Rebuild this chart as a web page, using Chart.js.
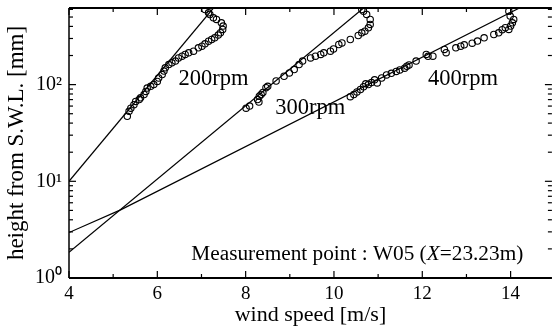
<!DOCTYPE html>
<html><head><meta charset="utf-8">
<script src="https://cdn.jsdelivr.net/npm/chart.js@4"></script>
<style>html,body{margin:0;padding:0;background:#fff;}#wrap{width:557px;height:329px;}</style>
</head><body><div id="wrap"><canvas id="c" width="557" height="329"></canvas></div>
<script>
// ---- data ----
const speed200  = [5.32,5.36,5.40,5.47,5.51,5.59,5.62,5.70,5.74,5.77,5.85,5.92,6.00,6.03,6.11,6.15,6.18,6.26,6.33,6.41,6.48,6.56,6.63,6.71,6.82,6.93,7.01,7.08,7.16,7.23,7.30,7.38,7.43,7.48,7.49,7.45,7.34,7.27,7.19,7.16,7.08];
const height200 = [47,53,57,62,67,70,73,79,85,92,96,100,108,117,127,138,149,161,168,175,189,197,205,213,222,240,250,264,281,293,305,325,344,372,403,436,472,491,531,553,598];

const speed300  = [8.01,8.09,8.27,8.30,8.31,8.35,8.39,8.46,8.50,8.69,8.87,8.99,9.10,9.21,9.29,9.47,9.58,9.70,9.77,9.92,9.99,10.11,10.18,10.37,10.55,10.63,10.70,10.78,10.82,10.82,10.74,10.67,10.63];
const height300 = [57,60,70,66,76,79,83,93,96,109,122,132,143,161,175,189,197,205,213,222,234,260,270,293,322,343,357,387,419,472,532,575,598];

const speed400  = [10.37,10.45,10.52,10.60,10.67,10.72,10.78,10.85,10.92,10.98,11.08,11.19,11.30,11.41,11.49,11.60,11.65,11.70,11.86,12.09,12.13,12.24,12.50,12.54,12.76,12.87,12.95,13.13,13.25,13.40,13.62,13.73,13.81,13.88,13.96,14.00,14.04,14.07,13.99,13.96];
const height400 = [75,79,84,89,95,102,100,105,112,104,117,126,131,137,142,148,155,160,175,205,196,197,231,214,240,250,258,268,282,305,330,343,370,388,372,403,436,472,511,575];

// fitted log-law lines
const fitSpeed200  = [4, 7.27];
const fitHeight200 = [10, 620];
const fitSpeed300  = [4, 10.67];
const fitHeight300 = [1.85, 620];
const fitSpeed400  = [4, 5.18, 14.2];
const fitHeight400 = [2.95, 5.1, 620];

// axes
const xTickValues = [4,5,6,7,8,9,10,11,12,13,14];
const yTickValues = [1,2,3,4,5,6,7,8,9,10,20,30,40,50,60,70,80,90,100,200,300,400,500,600];
const seriesLabels = ['200rpm','300rpm','400rpm'];

// ---- build ----
const SERIF = "'Liberation Serif','Times New Roman',serif";
const pts = (xs, ys) => xs.map((x, i) => ({x: x, y: ys[i]}));
const SUP = {'0':'\u2070','1':'\u00B9','2':'\u00B2','3':'\u00B3'};

function scatterSet(label, xs, ys) {
  return {label: label, data: pts(xs, ys), showLine: false, pointStyle: 'circle',
    pointRadius: 3.2, pointBorderWidth: 1.1, pointBorderColor: '#000',
    pointBackgroundColor: 'rgba(255,255,255,0)', borderColor: '#000'};
}
function lineSet(label, xs, ys) {
  return {label: label, data: pts(xs, ys), showLine: true, pointRadius: 0,
    borderColor: '#000', borderWidth: 1.2, fill: false, tension: 0};
}

const annotations = [
  {text: seriesLabels[0], x: 6.48, y: 98},
  {text: seriesLabels[1], x: 8.67, y: 50},
  {text: seriesLabels[2], x: 12.13, y: 98}
];
const noteParts = [{t: 'Measurement point : W05 (', it: false}, {t: 'X', it: true}, {t: '=23.23m)', it: false}];
const notePos = {x: 6.77, y: 1.55};

const framePlugin = {
  id: 'frame',
  afterDatasetsDraw(chart) {
    const {ctx, chartArea: a, scales: {x, y}} = chart;
    ctx.save();
    ctx.strokeStyle = '#000';
    ctx.lineWidth = 2;
    ctx.beginPath(); ctx.moveTo(a.left, a.bottom); ctx.lineTo(a.right, a.bottom); ctx.stroke();
    ctx.beginPath(); ctx.moveTo(a.left, a.top); ctx.lineTo(a.right, a.top); ctx.stroke();
    ctx.lineWidth = 1.5;
    ctx.beginPath(); ctx.moveTo(a.left, a.top); ctx.lineTo(a.left, a.bottom); ctx.stroke();
    ctx.lineWidth = 1.2;
    x.ticks.forEach(t => {
      const px = x.getPixelForValue(t.value);
      const len = (t.value % 2 === 0) ? 7 : 4;
      ctx.beginPath(); ctx.moveTo(px, a.bottom); ctx.lineTo(px, a.bottom - len); ctx.stroke();
      ctx.beginPath(); ctx.moveTo(px, a.top); ctx.lineTo(px, a.top + len); ctx.stroke();
    });
    y.ticks.forEach(t => {
      const py = y.getPixelForValue(t.value);
      const l10 = Math.log10(t.value);
      const len = Math.abs(l10 - Math.round(l10)) < 1e-9 ? 7 : 4;
      ctx.beginPath(); ctx.moveTo(a.left, py); ctx.lineTo(a.left + len, py); ctx.stroke();
      ctx.beginPath(); ctx.moveTo(a.right, py); ctx.lineTo(a.right - len, py); ctx.stroke();
    });
    ctx.restore();
  }
};

const labelPlugin = {
  id: 'labels',
  afterDraw(chart) {
    const {ctx, scales: {x, y}} = chart;
    ctx.save();
    ctx.fillStyle = '#000';
    ctx.textBaseline = 'alphabetic';
    ctx.textAlign = 'left';
    ctx.font = '22.5px ' + SERIF;
    annotations.forEach(a => ctx.fillText(a.text, x.getPixelForValue(a.x), y.getPixelForValue(a.y)));
    let px = x.getPixelForValue(notePos.x);
    const py = y.getPixelForValue(notePos.y);
    noteParts.forEach(p => {
      ctx.font = (p.it ? 'italic ' : '') + '21.3px ' + SERIF;
      ctx.fillText(p.t, px, py);
      px += ctx.measureText(p.t).width;
    });
    ctx.restore();
  }
};

new Chart(document.getElementById('c'), {
  type: 'scatter',
  data: {datasets: [
    lineSet('fit ' + seriesLabels[0], fitSpeed200, fitHeight200),
    lineSet('fit ' + seriesLabels[1], fitSpeed300, fitHeight300),
    lineSet('fit ' + seriesLabels[2], fitSpeed400, fitHeight400),
    scatterSet(seriesLabels[0], speed200, height200),
    scatterSet(seriesLabels[1], speed300, height300),
    scatterSet(seriesLabels[2], speed400, height400)
  ]},
  options: {
    responsive: false, animation: false, devicePixelRatio: 1,
    layout: {padding: {left: 0, right: 0, top: 8, bottom: 0}},
    plugins: {legend: {display: false}, tooltip: {enabled: false}},
    scales: {
      x: {
        type: 'linear', min: 4, max: 14.935,
        grid: {display: false, drawTicks: false}, border: {display: false},
        afterBuildTicks: s => { s.ticks = xTickValues.map(v => ({value: v})); },
        ticks: {color: '#000', font: {family: SERIF, size: 19}, padding: 5, maxRotation: 0, autoSkip: false,
          callback: v => (v % 2 === 0 ? String(v) : '')},
        title: {display: true, text: 'wind speed [m/s]', color: '#000', font: {family: SERIF, size: 22}, padding: {top: 0, bottom: 1}},
        afterFit: s => { s.height = 51; s.paddingLeft = 0; s.paddingRight = 0; }
      },
      y: {
        type: 'logarithmic', min: 1, max: 620,
        grid: {display: false, drawTicks: false}, border: {display: false},
        afterBuildTicks: s => { s.ticks = yTickValues.map(v => ({value: v})); },
        ticks: {color: '#000', font: {family: SERIF, size: 20}, padding: 7, autoSkip: false,
          callback: v => {
            const l = Math.log10(v);
            if (Math.abs(l - Math.round(l)) > 1e-9) return '';
            return '10' + SUP[String(Math.round(l))];
          }},
        title: {display: true, text: 'height from S.W.L. [mm]', color: '#000', font: {family: SERIF, size: 23}, padding: {top: 3, bottom: 0}},
        afterFit: s => { s.width = 69; s.paddingTop = 0; s.paddingBottom = 0; }
      }
    }
  },
  plugins: [framePlugin, labelPlugin]
});
</script></body></html>
